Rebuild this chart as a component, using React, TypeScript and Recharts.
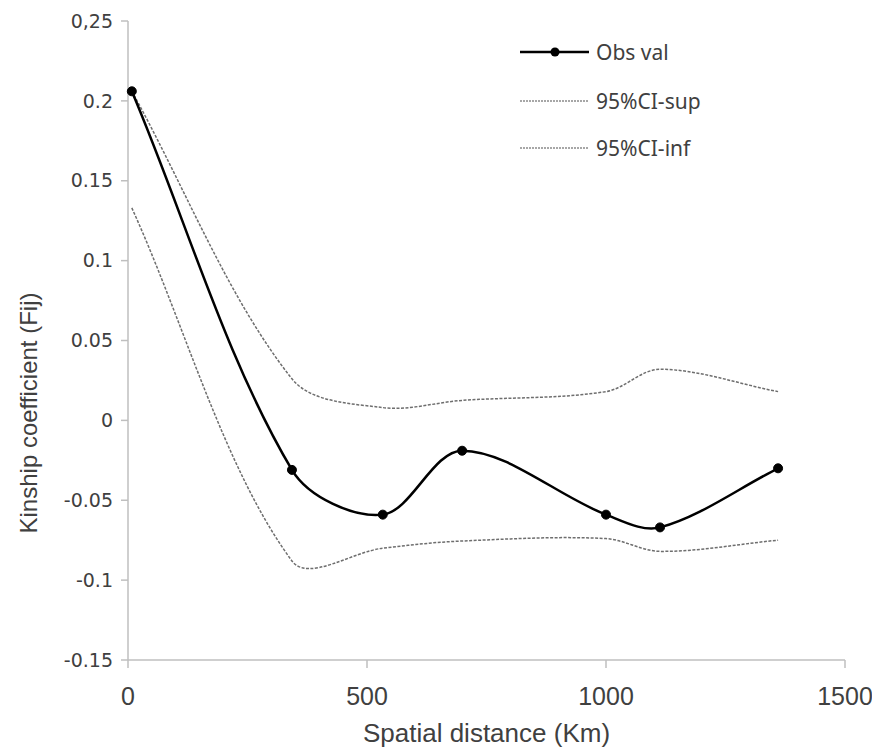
import { LineChart, Line, XAxis, YAxis } from "recharts";

// distances (km) and values
const distance = [8, 343, 533, 699, 1000, 1113, 1360];
const obsVal = [0.206, -0.031, -0.059, -0.019, -0.059, -0.067, -0.03];
const ciSup = [0.206, 0.026, 0.008, 0.0125, 0.018, 0.032, 0.018];
const ciInf = [0.133, -0.088, -0.08, -0.0755, -0.074, -0.082, -0.075];

const xTicks = [0, 500, 1000, 1500];
const yTicks = [-0.15, -0.1, -0.05, 0, 0.05, 0.1, 0.15, 0.2, 0.25];
const yTickLabels = ["-0.15", "-0.1", "-0.05", "0", "0.05", "0.1", "0.15", "0.2", "0,25"];

const legendItems = ["Obs val", "95%CI-sup", "95%CI-inf"];

const data = distance.map((d, i) => ({
  distance: d,
  obs: obsVal[i],
  sup: ciSup[i],
  inf: ciInf[i],
}));

const axisColor = "#bfbfbf";
const textColor = "#404040";
const ciColor = "#6e6e6e";

// Excel-style smoothed line: Bezier with chord-weighted Catmull-Rom tangents
const excelSmooth = (context: any) => {
  let pts: [number, number][] = [];
  const dist = (a: [number, number], b: [number, number]) => Math.hypot(b[0] - a[0], b[1] - a[1]);
  return {
    areaStart() {},
    areaEnd() {},
    lineStart() {
      pts = [];
    },
    lineEnd() {
      const n = pts.length;
      if (!n) return;
      context.moveTo(pts[0][0], pts[0][1]);
      for (let i = 0; i < n - 1; i++) {
        const p0 = pts[Math.max(i - 1, 0)];
        const p1 = pts[i];
        const p2 = pts[i + 1];
        const p3 = pts[Math.min(i + 2, n - 1)];
        const d01 = dist(p0, p1);
        const d12 = dist(p1, p2);
        const d23 = dist(p2, p3);
        const f1 = d12 / (d01 + d12) / 3;
        const f2 = d12 / (d12 + d23) / 3;
        context.bezierCurveTo(
          p1[0] + (p2[0] - p0[0]) * f1,
          p1[1] + (p2[1] - p0[1]) * f1,
          p2[0] - (p3[0] - p1[0]) * f2,
          p2[1] - (p3[1] - p1[1]) * f2,
          p2[0],
          p2[1]
        );
      }
    },
    point(x: number, y: number) {
      pts.push([x, y]);
    },
  };
};

function ChartLegend() {
  return (
    <svg width={220} height={140} style={{ position: "absolute", left: 505, top: 20 }}>
      {legendItems.map((label, i) => {
        const y = [24, 73, 120][i];
        const solid = i === 0;
        return (
          <g key={label}>
            <line
              x1={7}
              x2={76}
              y1={y}
              y2={y}
              stroke={solid ? "#000" : "#8a8a8a"}
              strokeWidth={solid ? 2.5 : 1.5}
              strokeDasharray={solid ? undefined : "2 1"}
            />
            {solid && <circle cx={42} cy={y} r={4.5} fill="#000" />}
            <text x={83} y={y} dominantBaseline="central" fontFamily="Noto Sans" fontSize={21} fill={textColor}>
              {label}
            </text>
          </g>
        );
      })}
    </svg>
  );
}

export default function App() {
  return (
    <div style={{ width: 872, height: 743, position: "relative" }}>
      <LineChart width={872} height={743} data={data} margin={{ top: 13, right: 35, bottom: 0, left: 0 }}>
        <XAxis
          dataKey="distance"
          type="number"
          domain={[0, 1500]}
          ticks={xTicks}
          height={91}
          tickSize={8}
          tickMargin={19}
          axisLine={{ stroke: axisColor, strokeWidth: 1.5 }}
          tickLine={{ stroke: axisColor, strokeWidth: 1.5 }}
          tick={{ fontFamily: "Liberation Sans", fontSize: 25, fill: textColor }}
          label={{
            value: "Spatial distance (Km)",
            position: "insideBottom",
            offset: 9,
            style: { fontFamily: "Liberation Sans", fontSize: 26, fill: textColor },
          }}
        />
        <YAxis
          type="number"
          domain={[-0.15, 0.25]}
          ticks={yTicks}
          width={120}
          tickSize={7}
          tickMargin={8}
          interval={0}
          tickFormatter={(v: number) => yTickLabels[yTicks.findIndex((t) => Math.abs(t - v) < 1e-9)] ?? String(v)}
          axisLine={{ stroke: axisColor, strokeWidth: 1.5 }}
          tickLine={{ stroke: axisColor, strokeWidth: 1.5 }}
          tick={{ fontFamily: "DejaVu Sans", fontSize: 19, fill: textColor }}
          label={() => (
            <text
              x={20}
              y={405}
              transform="rotate(-90 20 405)"
              textAnchor="middle"
              dominantBaseline="central"
              fontFamily="Liberation Sans"
              fontSize={24}
              fill={textColor}
            >
              Kinship coefficient (Fij)
            </text>
          )}
        />
        <Line
          dataKey="sup"
          type={excelSmooth as any}
          stroke={ciColor}
          strokeWidth={1.5}
          strokeDasharray="3 1.5"
          dot={false}
          activeDot={false}
          isAnimationActive={false}
        />
        <Line
          dataKey="inf"
          type={excelSmooth as any}
          stroke={ciColor}
          strokeWidth={1.5}
          strokeDasharray="3 1.5"
          dot={false}
          activeDot={false}
          isAnimationActive={false}
        />
        <Line
          dataKey="obs"
          type={excelSmooth as any}
          stroke="#000"
          strokeWidth={2.5}
          dot={{ r: 4.5, fill: "#000", stroke: "#000", strokeWidth: 1 }}
          activeDot={false}
          isAnimationActive={false}
        />
      </LineChart>
      <ChartLegend />
    </div>
  );
}
